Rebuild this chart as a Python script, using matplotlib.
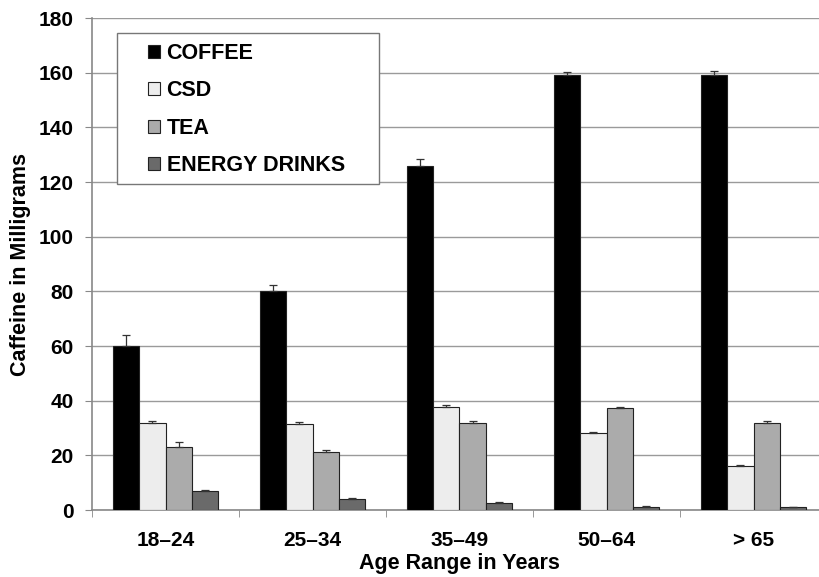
import matplotlib
matplotlib.use("Agg")
import matplotlib.pyplot as plt
from matplotlib.patches import Rectangle
import numpy as np

plt.rcParams['font.family'] = ['Liberation Sans', 'DejaVu Sans']

categories = ["18\u201324", "25\u201334", "35\u201349", "50\u201364", "> 65"]
series = ["COFFEE", "CSD", "TEA", "ENERGY DRINKS"]
coffee = [60, 80, 126, 159, 159]
csd = [31.7, 31.6, 37.8, 28.0, 16.1]
tea = [23.2, 21.3, 31.7, 37.3, 31.7]
energy = [6.8, 4.2, 2.7, 1.2, 1.0]
coffee_err = [4.0, 2.2, 2.4, 1.2, 1.5]
csd_err = [1.0, 0.5, 0.5, 0.4, 0.4]
tea_err = [1.5, 0.8, 1.0, 0.5, 0.9]
energy_err = [0.5, 0.3, 0.2, 0.1, 0.1]

values = [coffee, csd, tea, energy]
errors = [coffee_err, csd_err, tea_err, energy_err]
colors = ["#000000", "#ededed", "#ababab", "#6a6a6a"]

fig = plt.figure(figsize=(8.19, 5.77), dpi=100)
ax = fig.add_axes([92/819, 67/577, 735/819, 492/577])

x = np.arange(len(categories))
w = 0.18
handles = []
for i, (vals, errs, c) in enumerate(zip(values, errors, colors)):
    pos = x + (i - 1.5) * w
    b = ax.bar(pos, vals, w, color=c, edgecolor="#222222", linewidth=0.8, zorder=3,
               label=series[i])
    ax.errorbar(pos, vals, yerr=[np.zeros(len(errs)), errs], fmt="none",
                ecolor="#333333", elinewidth=0.9, capsize=3, capthick=0.9, zorder=4)
    handles.append(b)

ax.set_xlim(-0.5, len(categories) - 0.5)
ax.set_ylim(0, 180)
ax.set_yticks(np.arange(0, 181, 20))
ax.yaxis.grid(True, color="#9a9a9a", linewidth=1.0, zorder=0)
ax.set_axisbelow(True)

ax.set_xticks(x)
ax.set_xticklabels(categories, fontsize=15, fontweight="bold")
ax.set_xticks(np.arange(-0.5, len(categories), 1), minor=True)
ax.tick_params(axis="x", which="major", length=0, pad=15)
ax.tick_params(axis="x", which="minor", length=5, color="#888888", direction="out")
ax.tick_params(axis="y", length=5, color="#888888", labelsize=15, pad=8)
for lab in ax.get_yticklabels():
    lab.set_fontweight("bold")

for s in ["top", "right"]:
    ax.spines[s].set_visible(False)
ax.spines["left"].set_color("#888888")
ax.spines["bottom"].set_color("#888888")
ax.spines["left"].set_linewidth(1.2)
ax.spines["bottom"].set_linewidth(1.2)

ax.set_ylabel("Caffeine in Milligrams", fontsize=15.5, fontweight="bold", labelpad=6)
ax.set_xlabel("Age Range in Years", fontsize=15.5, fontweight="bold", labelpad=2)

# legend frame drawn separately
fig.patches.append(Rectangle((117/819, 1 - 184/577), 262/819, 151/577,
                             transform=fig.transFigure, facecolor="white",
                             edgecolor="#777777", linewidth=1.0, zorder=5))
leg = fig.legend(handles=handles, labels=series, loc="upper left",
                 bbox_to_anchor=(148/819, 1 - 43/577), prop={"weight": "bold", "size": 15.5},
                 handlelength=0.56, handleheight=0.56, handletextpad=0.3,
                 labelspacing=0.76, borderpad=0, borderaxespad=0,
                 frameon=False)
leg.set_zorder(6)

fig.savefig("out.png", dpi=100)
